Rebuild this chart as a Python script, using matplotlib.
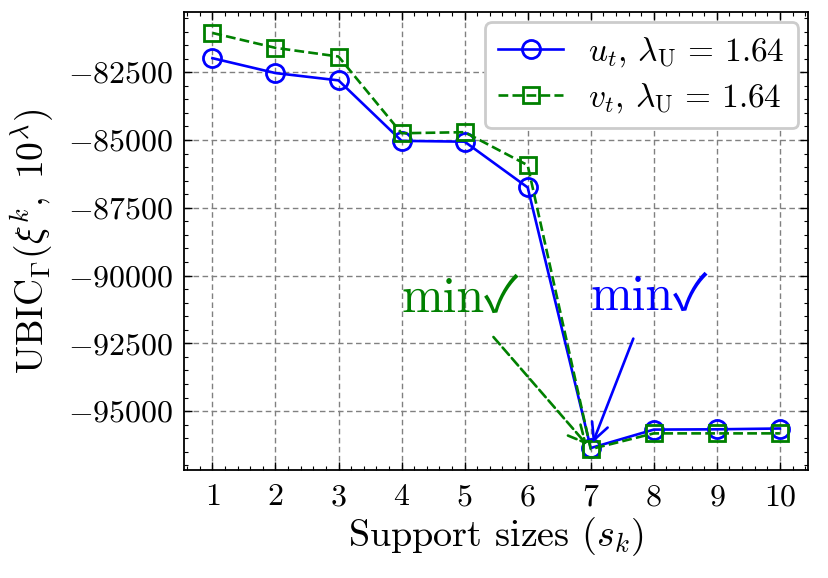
import matplotlib
matplotlib.use('Agg')
import matplotlib.pyplot as plt
from matplotlib.ticker import AutoMinorLocator

# %%
support_sizes = [1, 2, 3, 4, 5, 6, 7, 8, 9, 10]
ubic_u = [-81980, -82530, -82800, -85030, -85060, -86750, -96360, -95680, -95670, -95640]
ubic_v = [-81050, -81600, -81920, -84750, -84710, -85930, -96400, -95820, -95820, -95820]
label_u = r'$u_t$, $\lambda_\mathrm{U}\,=\,1.64$'
label_v = r'$v_t$, $\lambda_\mathrm{U}\,=\,1.64$'

plt.rcParams.update({
    'font.family': 'serif',
    'font.serif': ['cmr10'],
    'mathtext.fontset': 'cm',
    'axes.formatter.use_mathtext': True,
    'axes.unicode_minus': True,
    'font.size': 23,
    'xtick.direction': 'in',
    'ytick.direction': 'in',
    'xtick.top': True,
    'ytick.right': True,
    'xtick.major.size': 6,
    'ytick.major.size': 6,
    'xtick.minor.size': 3,
    'ytick.minor.size': 3,
    'xtick.major.width': 1.0,
    'ytick.major.width': 1.0,
    'xtick.minor.width': 0.8,
    'ytick.minor.width': 0.8,
    'xtick.major.pad': 10,
    'ytick.major.pad': 8,
    'xtick.minor.visible': True,
    'ytick.minor.visible': True,
    'axes.linewidth': 1.3,
})

# %%
fig = plt.figure(figsize=(8.29, 5.78), dpi=100)
ax = fig.add_axes([0.222, 0.187, 0.753, 0.792])

ax.plot(support_sizes, ubic_u, color='blue', lw=1.9, ls='-', marker='o', ms=13,
        mfc='none', mew=2.0, label=label_u)
ax.plot(support_sizes, ubic_v, color='green', lw=1.9, ls='--', marker='s', ms=12,
        mfc='none', mew=2.0, label=label_v)

ax.grid(True, color='gray', ls=(0, (4, 2.5)), lw=1.0)
ax.set_axisbelow(True)
ax.set_xticks(support_sizes)
ax.xaxis.set_minor_locator(AutoMinorLocator(5))
ax.yaxis.set_minor_locator(AutoMinorLocator(5))
ax.set_yticks([-82500, -85000, -87500, -90000, -92500, -95000])

ax.set_xlabel(r'Support sizes ($s_k$)', fontsize=27.5, labelpad=3)
ax.set_ylabel(r'$\mathrm{UBIC}_{\Gamma}(\xi^{k},\ 10^{\lambda})$', fontsize=27, labelpad=8)

mark_font = ['cmr10', 'Noto Sans CJK JP', 'DejaVu Sans']
ax.annotate('min✓', xy=(7, ubic_v[6]), xytext=(4.0, -91330),
            color='green', fontsize=36, family=mark_font,
            arrowprops=dict(arrowstyle='->', color='green', lw=1.9, ls='--',
                            shrinkA=12, shrinkB=4, mutation_scale=30))
ax.annotate('min✓', xy=(7, ubic_u[6]), xytext=(7.0, -91280),
            color='blue', fontsize=36, family=mark_font,
            arrowprops=dict(arrowstyle='->', color='blue', lw=1.9,
                            shrinkA=12, shrinkB=4, mutation_scale=30))

leg = ax.legend(loc='upper right', fontsize=24, handlelength=1.95, handletextpad=0.75,
                borderaxespad=0.3, labelspacing=0.35, framealpha=1.0, fancybox=True)
leg.get_frame().set_edgecolor('0.8')
leg.get_frame().set_linewidth(2.0)

plt.savefig('out.png', dpi=100)
